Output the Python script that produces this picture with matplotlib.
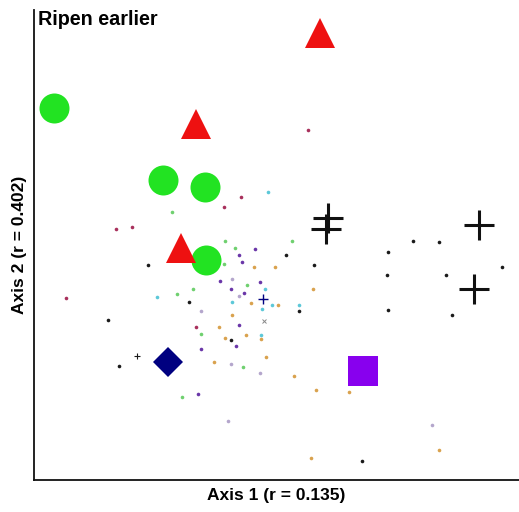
import matplotlib
matplotlib.use("Agg")
import matplotlib.pyplot as plt

plt.rcParams['font.family'] = ['Liberation Sans', 'DejaVu Sans']

# ---- large group markers (axis 1 score, axis 2 score) ----
circle_x = [20, 129, 171, 172]
circle_y = [372, 300, 293, 220]
triangle_x = [286, 162, 147]
triangle_y = [447, 356, 232]
plus_x = [294, 292, 445, 440]
plus_y = [262, 251, 255, 191]
diamond_x = [134]
diamond_y = [118]
square_x = [329]
square_y = [109]

# ---- small individual points by colour group ----
crimson_x = [207, 190, 82, 98, 274, 32, 162]
crimson_y = [283, 273, 251, 253, 350, 182, 153]
green_x = [138, 191, 201, 143, 159, 167, 190, 213, 209, 148, 258]
green_y = [268, 239, 232, 186, 191, 146, 216, 195, 113, 83, 239]
cyan_x = [234, 123, 198, 231, 238, 265, 228, 227]
cyan_y = [288, 183, 178, 191, 175, 175, 171, 145]
purple_x = [205, 221, 167, 208, 186, 197, 210, 202, 164, 226, 205]
purple_y = [225, 231, 131, 218, 199, 191, 187, 134, 86, 198, 155]
lavender_x = [167, 198, 205, 197, 194, 226, 398]
lavender_y = [169, 201, 184, 116, 59, 107, 55]
orange_x = [185, 220, 217, 198, 191, 212, 180, 241, 244, 279, 227, 232, 260, 282, 315, 405, 277]
orange_y = [153, 213, 177, 165, 142, 145, 118, 213, 175, 191, 141, 123, 104, 90, 88, 30, 22]
black_x = [252, 354, 379, 405, 114, 74, 85, 155, 197, 280, 353, 412, 468, 265, 354, 418, 328]
black_y = [225, 228, 239, 238, 215, 160, 114, 178, 140, 215, 205, 205, 213, 169, 170, 165, 19]
small_plus_x = [103]
small_plus_y = [124]
centroid_x = [229]
centroid_y = [181]
gray_x = [230]
gray_y = [159]

fig = plt.figure(figsize=(5.19, 5.12), dpi=100)
ax = fig.add_axes([34 / 519, 32 / 512, 485 / 519, 470 / 512])

dot = dict(marker='o', markersize=2.6, linestyle='none', markeredgewidth=0)
ax.plot(crimson_x, crimson_y, color='#a8305c', **dot)
ax.plot(green_x, green_y, color='#6fd06f', **dot)
ax.plot(cyan_x, cyan_y, color='#5cc8d8', **dot)
ax.plot(purple_x, purple_y, color='#6a36a8', **dot)
ax.plot(lavender_x, lavender_y, color='#b4a6cc', **dot)
ax.plot(orange_x, orange_y, color='#d9a24e', **dot)
ax.plot(black_x, black_y, color='#1a1a1a', **dot)
ax.plot(small_plus_x, small_plus_y, marker='+', markersize=4, color='#1a1a1a',
        linestyle='none', markeredgewidth=0.8)
ax.plot(centroid_x, centroid_y, marker='+', markersize=7, color='#000080',
        linestyle='none', markeredgewidth=1.0)
ax.plot(gray_x, gray_y, marker='x', markersize=3, color='#888888',
        linestyle='none', markeredgewidth=0.7)

ax.plot(circle_x, circle_y, marker='o', markersize=21.6, color='#22e322',
        linestyle='none', markeredgewidth=0)
ax.plot(triangle_x, triangle_y, marker='^', markersize=21.6, color='#ee1111',
        linestyle='none', markeredgewidth=0)
ax.plot(plus_x, plus_y, marker='+', markersize=22, color='#111111',
        linestyle='none', markeredgewidth=2.2)
ax.plot(diamond_x, diamond_y, marker='D', markersize=15.3, color='#000080',
        linestyle='none', markeredgewidth=0)
ax.plot(square_x, square_y, marker='s', markersize=22, color='#8800ee',
        linestyle='none', markeredgewidth=0)

ax.set_xlim(0, 485)
ax.set_ylim(0, 470)
ax.set_xticks([])
ax.set_yticks([])
for side in ['top', 'right']:
    ax.spines[side].set_visible(False)
for side in ['left', 'bottom']:
    ax.spines[side].set_linewidth(1.3)
    ax.spines[side].set_color('#111111')

ax.text(0.008, 1.0, 'Ripen earlier', transform=ax.transAxes, ha='left', va='top',
        fontsize=14.2, fontweight='bold')
ax.set_xlabel('Axis 1 (r = 0.135)', fontsize=12.5, fontweight='bold', labelpad=6)
ax.set_ylabel('Axis 2 (r = 0.402)', fontsize=12.5, fontweight='bold', labelpad=5)

fig.savefig('out.png', dpi=100)
